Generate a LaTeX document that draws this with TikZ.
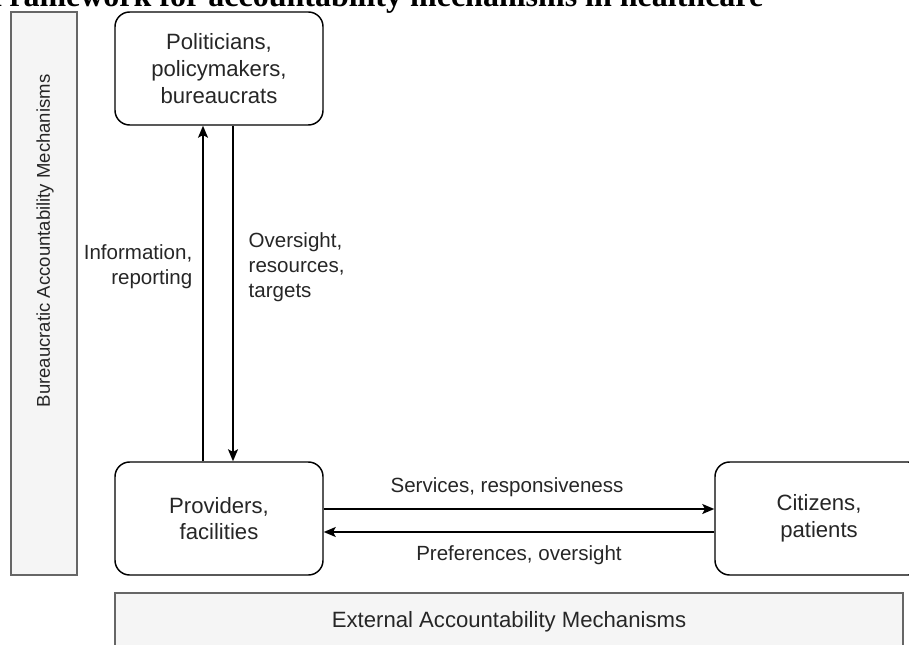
\documentclass[tikz,border=0pt]{standalone}
\usepackage{fontspec}
\setmainfont{Liberation Sans}
\newfontfamily\titlefont{Liberation Serif}
\usetikzlibrary{arrows.meta}

\begin{document}
\begin{tikzpicture}[x=0.75pt, y=-0.75pt,
        txt/.style={font=\fontsize{16.6}{20}\selectfont, text=black!85},
        lbl/.style={font=\fontsize{15.4}{18.8}\selectfont, text=black!85},
        actor/.style={txt, draw=black, line width=1.1pt, rounded corners=11pt,
            fill=white, align=center, inner sep=0pt,
            minimum width=156pt, minimum height=84.75pt},
        mechbox/.style={draw=black!60, fill=black!4, line width=1.1pt},
        flow/.style={line width=1.1pt, -{Stealth[length=9pt, width=7.5pt, inset=2pt]}}]
        \useasboundingbox (0,0) rectangle (909,645);
        \clip (0,0) rectangle (909,645);

        % Title, cut at the top edge
        \node[anchor=base east, font=\titlefont\bfseries\fontsize{24}{28}\selectfont]
            (title) at (768,7) {Framework for accountability mechanisms in healthcare};

        % Grey bands for the two kinds of mechanisms
        \filldraw[mechbox] (11,12) rectangle (77,575);
        \node[txt, font=\fontsize{13.9}{16}\selectfont, rotate=90] (bureau) at (45,241)
            {Bureaucratic Accountability Mechanisms};
        \filldraw[mechbox] (115,593) rectangle (903,670);
        \node[txt] (extern) at (509,622) {External Accountability Mechanisms};

        % Actors
        \node[actor] (pol) at (219,68.5) {Politicians,\\policymakers,\\bureaucrats};
        \node[actor] (prov) at (219,518.5) {Providers,\\facilities};
        \node[actor] (cit) at (819,518.5) {Citizens,\\patients};

        % Vertical flows
        \coordinate (up) at (203,0);
        \coordinate (down) at (233,0);
        \draw[flow] (prov.north -| up) -- (pol.south -| up);
        \draw[flow] (pol.south -| down) -- (prov.north -| down);
        \node[lbl, anchor=east, align=right] (info) at (197,267) {Information,\\reporting};
        \node[lbl, anchor=west, align=left] (overs) at (244,267) {Oversight,\\resources,\\targets};

        % Horizontal flows
        \coordinate (svc) at (0,509);
        \coordinate (pref) at (0,532);
        \draw[flow] (prov.east |- svc) -- (cit.west |- svc);
        \draw[flow] (cit.west |- pref) -- (prov.east |- pref);
        \node[lbl] (services) at (507,487) {Services, responsiveness};
        \node[lbl] (prefs) at (519,555) {Preferences, oversight};
    \end{tikzpicture}
\end{document}
